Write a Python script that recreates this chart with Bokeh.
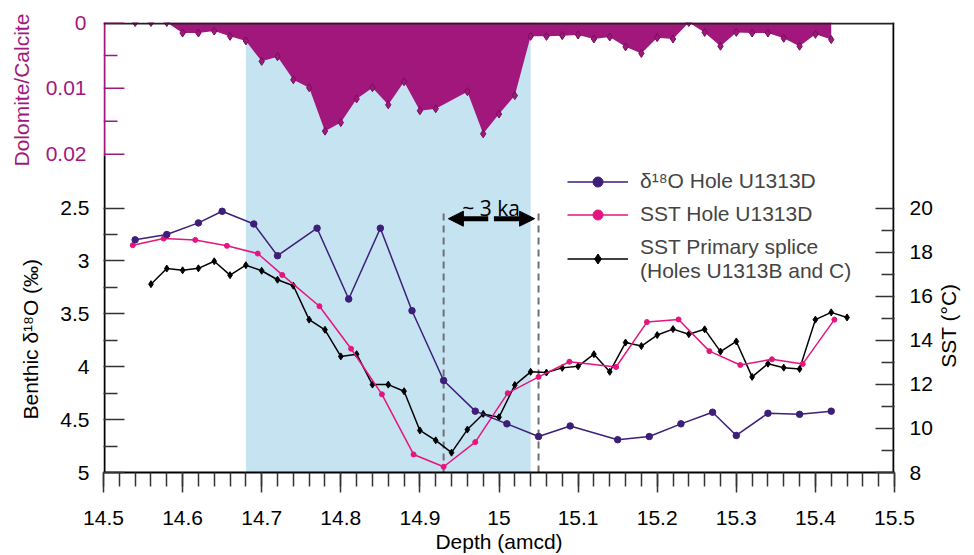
import math

from bokeh.plotting import figure
from bokeh.models import (Range1d, LinearAxis, FixedTicker, CustomJSTickFormatter,
                          BoxAnnotation, Legend, LegendItem, Arrow, NormalHead, Label, Title)
from bokeh.embed import file_html
from bokeh.resources import INLINE

# ---------------------------------------------------------------- data
# Dolomite/Calcite ratio (upper panel)
depth_dol = [14.54, 14.56, 14.58, 14.60, 14.62, 14.64, 14.66, 14.68, 14.70, 14.72,
             14.74, 14.76, 14.78, 14.80, 14.82, 14.84, 14.86, 14.88, 14.90, 14.92,
             14.96, 14.98, 15.00, 15.02, 15.04, 15.06, 15.08, 15.10, 15.12, 15.14,
             15.16, 15.18, 15.20, 15.22, 15.24, 15.26, 15.28, 15.30, 15.32, 15.34,
             15.36, 15.38, 15.40, 15.42]
dol_ratio = [0.0, 0.0, 0.0, 0.0016, 0.0016, 0.0013, 0.0021, 0.0028, 0.0059, 0.0052,
             0.0087, 0.0099, 0.0165, 0.0152, 0.0116, 0.0099, 0.0125, 0.0090, 0.0134, 0.0131,
             0.0105, 0.0169, 0.0139, 0.0111, 0.0021, 0.0021, 0.0020, 0.0019, 0.0025, 0.0022,
             0.0037, 0.0047, 0.0023, 0.0025, 0.0000, 0.0015, 0.0036, 0.0015, 0.0016, 0.0016,
             0.0024, 0.0036, 0.0018, 0.0026]

# Benthic d18O, Hole U1313D
depth_d18o = [14.54, 14.58, 14.62, 14.65, 14.69, 14.72, 14.77, 14.81, 14.85, 14.89,
              14.93, 14.97, 15.01, 15.05, 15.09, 15.15, 15.19, 15.23, 15.27, 15.30,
              15.34, 15.38, 15.42]
d18o = [2.80, 2.75, 2.64, 2.53, 2.65, 2.95, 2.69, 3.36, 2.69, 3.47,
        4.13, 4.42, 4.54, 4.66, 4.56, 4.69, 4.66, 4.54, 4.43, 4.65,
        4.44, 4.45, 4.42]

# SST, Hole U1313D
depth_sst_d = [14.537, 14.576, 14.616, 14.656, 14.695, 14.726, 14.773, 14.813, 14.852, 14.892,
               14.930, 14.970, 15.011, 15.050, 15.089, 15.148, 15.187, 15.227, 15.266, 15.305,
               15.345, 15.384, 15.424]
sst_d = [18.32, 18.62, 18.56, 18.29, 17.94, 16.97, 15.55, 13.62, 11.55, 8.82,
         8.26, 9.38, 11.60, 12.34, 13.03, 12.79, 14.83, 14.95, 13.51, 12.88,
         13.14, 12.93, 14.94]

# SST, primary splice (Holes U1313B and C)
depth_splice = [14.56, 14.58, 14.60, 14.62, 14.64, 14.66, 14.68, 14.70, 14.72, 14.74,
                14.76, 14.78, 14.80, 14.82, 14.84, 14.86, 14.88, 14.90, 14.92, 14.94,
                14.96, 14.98, 15.00, 15.02, 15.04, 15.06, 15.08, 15.10, 15.12, 15.14,
                15.16, 15.18, 15.20, 15.22, 15.24, 15.26, 15.28, 15.30, 15.32, 15.34,
                15.36, 15.38, 15.40, 15.42, 15.44]
sst_splice = [16.55, 17.26, 17.18, 17.27, 17.59, 16.96, 17.41, 17.16, 16.75, 16.48,
              14.94, 14.48, 13.27, 13.37, 11.99, 11.99, 11.69, 9.91, 9.46, 8.90,
              9.95, 10.66, 10.51, 11.97, 12.57, 12.54, 12.75, 12.82, 13.37, 12.57,
              13.90, 13.74, 14.24, 14.51, 14.28, 14.50, 13.49, 13.95, 12.34, 12.94,
              12.76, 12.70, 14.94, 15.27, 15.04]

# Axis ticks
depth_ticks = [14.5, 14.6, 14.7, 14.8, 14.9, 15.0, 15.1, 15.2, 15.3, 15.4, 15.5]
dol_ticks = [0, 0.01, 0.02]
dol_minor_ticks = [0.005, 0.015]
d18o_ticks = [2.5, 3, 3.5, 4, 4.5, 5]
sst_ticks = [8, 10, 12, 14, 16, 18, 20]

# Shaded interval and the ~3 ka lag markers
shade_start, shade_end = 14.68, 15.04
lag_start, lag_end = 14.93, 15.05

# ---------------------------------------------------------------- style
FONT = "Liberation Sans"
FS = "21px"
PURPLE = "#A2177C"
BLUE = "#C5E3F0"
INDIGO = "#3D1E78"
MAGENTA = "#E5157F"

FRAME_W = 794
X_MIN, X_MAX = 14.5, 15.5
D18O_RANGE = (5, 0.745)         # bottom, top
DOL_RANGE = (0.06833, 0)        # bottom, top
SST_RANGE = (8, 28.43)          # bottom, top
PX = (X_MAX - X_MIN) / FRAME_W  # one screen pixel in depth units

fmt = CustomJSTickFormatter(code="return String(Number(tick.toFixed(4)));")


def style_axis(ax, color="black", label_color="black"):
    ax.axis_line_color = None
    ax.major_tick_line_color = color if color != "black" else "#333333"
    ax.minor_tick_line_color = color if color != "black" else "#333333"
    ax.major_tick_line_width = 1.5
    ax.minor_tick_line_width = 1.5
    ax.major_label_text_font = FONT
    ax.major_label_text_font_size = FS
    ax.major_label_text_color = label_color
    ax.axis_label_text_font = FONT
    ax.axis_label_text_font_size = FS
    ax.axis_label_text_font_style = "normal"
    ax.axis_label_text_color = label_color
    ax.formatter = fmt


# One frame, three vertical scales: dolomite ratio on top (downward),
# benthic d18O (downward) and SST (upward) below.
p = figure(width=974, height=555,
           x_range=Range1d(X_MIN, X_MAX), y_range=Range1d(*D18O_RANGE),
           output_backend="svg", toolbar_location=None, title=None,
           x_axis_location=None, y_axis_location=None,
           min_border_left=103, min_border_right=77, min_border_top=22, min_border_bottom=82,
           outline_line_color=None,
           background_fill_color="white", border_fill_color="white")
p.extra_y_ranges = {"dol": Range1d(*DOL_RANGE), "sst": Range1d(*SST_RANGE)}
p.xgrid.visible = False
p.ygrid.visible = False

p.add_layout(BoxAnnotation(left=shade_start, right=shade_end, fill_color=BLUE,
                           fill_alpha=1, line_color=None, level="underlay"))

# dolomite / calcite
p.varea(x=depth_dol, y1=0, y2=dol_ratio, y_range_name="dol", fill_color=PURPLE)
p.scatter(depth_dol, dol_ratio, y_range_name="dol", marker="diamond", size=8,
          fill_color=PURPLE, line_color="#6E1058", line_width=1)

# frame edges, kept just inside the frame
p.segment(x0=[X_MIN + PX], y0=[0], x1=[X_MIN + PX], y1=[0.02], y_range_name="dol",
          line_color=PURPLE, line_width=2)
p.segment(x0=[X_MIN + PX], y0=[2.0], x1=[X_MIN + PX], y1=[D18O_RANGE[0]],
          line_color="black", line_width=2)
p.segment(x0=[X_MAX - PX], y0=[SST_RANGE[0]], x1=[X_MAX - PX], y1=[SST_RANGE[1]],
          y_range_name="sst", line_color="black", line_width=2)
p.segment(x0=[X_MIN], y0=[0.00015], x1=[X_MAX], y1=[0.00015], y_range_name="dol",
          line_color="#222222", line_width=2)

# purple scale marks of the dolomite axis, drawn inward from the left frame edge
p.segment(x0=[X_MIN] * len(dol_ticks), y0=dol_ticks,
          x1=[X_MIN + 21 * PX] * len(dol_ticks), y1=dol_ticks,
          y_range_name="dol", line_color=PURPLE, line_width=1.5)
p.segment(x0=[X_MIN] * len(dol_minor_ticks), y0=dol_minor_ticks,
          x1=[X_MIN + 14 * PX] * len(dol_minor_ticks), y1=dol_minor_ticks,
          y_range_name="dol", line_color=PURPLE, line_width=1.5)

# lag markers
p.segment(x0=[lag_start, lag_end], y0=[2.55, 2.55], x1=[lag_start, lag_end], y1=[5, 5],
          line_color="#707070", line_width=2, line_dash="7 5")
mid = (lag_start + lag_end) / 2
for xs, xe in ((mid - 0.0036, lag_start + 0.006), (mid + 0.0036, lag_end - 0.005)):
    p.add_layout(Arrow(end=NormalHead(size=15, fill_color="black", line_color="black"),
                       x_start=xs, y_start=2.6, x_end=xe, y_end=2.6,
                       line_color="black", line_width=5))
p.add_layout(Label(x=mid, y=2.5, text="~ 3 ka", text_align="center",
                   text_baseline="alphabetic", text_font="Open Sans",
                   text_font_size="21px", text_color="black"))

r_sp_l = p.line(depth_splice, sst_splice, y_range_name="sst", line_color="black", line_width=1.5)
r_sp_s = p.scatter(depth_splice, sst_splice, y_range_name="sst", marker="diamond", size=7,
                   fill_color="black", line_color="black")
r_sd_l = p.line(depth_sst_d, sst_d, y_range_name="sst", line_color=MAGENTA, line_width=1.5)
r_sd_s = p.scatter(depth_sst_d, sst_d, y_range_name="sst", marker="circle", size=5,
                   fill_color=MAGENTA, line_color=MAGENTA)
r_o_l = p.line(depth_d18o, d18o, line_color=INDIGO, line_width=1.5)
r_o_s = p.scatter(depth_d18o, d18o, marker="circle", size=6.5, fill_color=INDIGO,
                  line_color=INDIGO)

# ---------------------------------------------------------------- axes
x_axis = LinearAxis(ticker=FixedTicker(ticks=depth_ticks,
                                       minor_ticks=[round(X_MIN + 0.02 * i, 2) for i in range(51)]),
                    axis_label="Depth (amcd)",
                    major_tick_in=0, major_tick_out=20, minor_tick_in=0, minor_tick_out=14,
                    major_label_standoff=18, axis_label_standoff=2)
style_axis(x_axis)
x_axis.axis_line_color = "black"
x_axis.axis_line_width = 2
p.add_layout(x_axis, "below")

y_axis = LinearAxis(ticker=FixedTicker(ticks=d18o_ticks, minor_ticks=[2.75, 3.25, 3.75, 4.25, 4.75]),
                    major_tick_in=21, major_tick_out=0, minor_tick_in=14, minor_tick_out=0,
                    major_label_standoff=14)
style_axis(y_axis)
p.add_layout(y_axis, "left")

# dolomite tick labels, pulled back next to the frame edge
dol_axis = LinearAxis(y_range_name="dol",
                      ticker=FixedTicker(ticks=dol_ticks, minor_ticks=dol_minor_ticks),
                      major_tick_in=0, major_tick_out=0, minor_tick_in=0, minor_tick_out=0,
                      major_label_standoff=-29)
style_axis(dol_axis, PURPLE, PURPLE)
dol_axis.major_tick_line_color = None
dol_axis.minor_tick_line_color = None
p.add_layout(dol_axis, "left")

sst_axis = LinearAxis(y_range_name="sst",
                      ticker=FixedTicker(ticks=sst_ticks, minor_ticks=[9, 11, 13, 15, 17, 19]),
                      major_tick_in=19, major_tick_out=0, minor_tick_in=13, minor_tick_out=0,
                      major_label_standoff=15)
style_axis(sst_axis)
p.add_layout(sst_axis, "right")

# SST title: a single upright label, starting at 12.75 degC and reading upward
sst_title_at = 12.755
sst_title = LinearAxis(y_range_name="sst", ticker=FixedTicker(ticks=[sst_title_at]),
                       major_label_overrides={sst_title_at: "SST (°C)"},
                       major_label_orientation=math.pi / 2,
                       major_tick_in=0, major_tick_out=0, minor_tick_in=0, minor_tick_out=0,
                       major_label_standoff=13)
style_axis(sst_title)
sst_title.major_tick_line_color = None
sst_title.minor_tick_line_color = None
p.add_layout(sst_title, "right")

# vertical axis titles on the left, offset along the side
p.add_layout(Title(text="Benthic δ¹⁸O (‰)", align="left", offset=53,
                   text_font=FONT, text_font_size=FS, text_font_style="normal",
                   text_color="black", standoff=1.2), "left")
p.add_layout(Title(text="Dolomite/Calcite", align="left", offset=306,
                   text_font=FONT, text_font_size=FS, text_font_style="normal",
                   text_color=PURPLE, standoff=-32), "left")

legend = Legend(items=[LegendItem(label="δ¹⁸O Hole U1313D", renderers=[r_o_l, r_o_s]),
                       LegendItem(label="SST Hole U1313D", renderers=[r_sd_l, r_sd_s]),
                       LegendItem(label="SST Primary splice\n(Holes U1313B and C)",
                                  renderers=[r_sp_l, r_sp_s])],
                location=(464, 189.5), orientation="vertical",
                label_text_font=FONT, label_text_font_size=FS,
                glyph_width=61, glyph_height=25, label_height=25, label_standoff=12,
                spacing=8, padding=0, margin=0,
                border_line_color=None, background_fill_alpha=0)
p.add_layout(legend)

open("out.html", "w").write(file_html(p, INLINE))
